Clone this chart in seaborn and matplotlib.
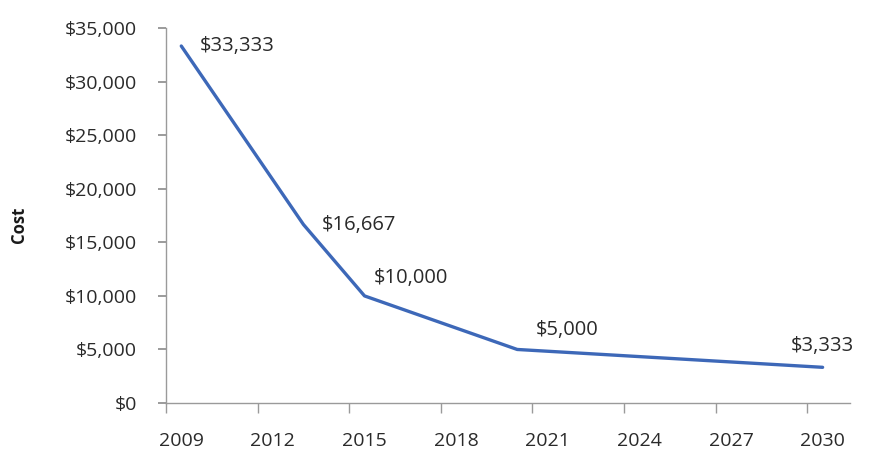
import numpy as np
import pandas as pd
import matplotlib.pyplot as plt
import matplotlib.ticker as mticker
import seaborn as sns

years = [2009, 2013, 2015, 2020, 2030]
cost = [33333, 16667, 10000, 5000, 3333]
tick_years = [2009, 2012, 2015, 2018, 2021, 2024, 2027, 2030]

df = pd.DataFrame({"year": years, "cost": cost})

sns.set_style("white")
plt.rcParams["font.family"] = ["Open Sans", "DejaVu Sans"]
plt.rcParams["xtick.bottom"] = True
plt.rcParams["ytick.left"] = True

fig = plt.figure(figsize=(8.71, 4.54), dpi=100)
ax = fig.add_axes([0.1906, 0.1123, 0.7854, 0.8257])

sns.lineplot(data=df, x="year", y="cost", ax=ax, color="#3d68b8", linewidth=2.4)

# label offsets in points (dx, dy, ha)
offsets = [(13, 0, "left"), (13, 0, "left"), (7, 13, "left"), (13, 14, "left"), (0, 15, "center")]
for x, y, (dx, dy, ha) in zip(years, cost, offsets):
    ax.annotate(f"${y:,.0f}", (x, y), xytext=(dx, dy), textcoords="offset points",
                ha=ha, va="center", fontsize=14.5, color="#2a2a2a")

ax.set_xlim(2008.5, 2030.9)
ax.set_ylim(0, 35000)
ax.yaxis.set_major_locator(mticker.MultipleLocator(5000))
ax.yaxis.set_major_formatter(mticker.FuncFormatter(lambda v, p: f"${v:,.0f}"))

ax.set_xticks(tick_years)
ax.set_xticks([y - 0.5 for y in tick_years], minor=True)
ax.tick_params(axis="x", which="major", bottom=True, length=0, pad=21, labelsize=14,
               labelcolor="#2a2a2a")
ax.tick_params(axis="x", which="minor", bottom=True, length=7, width=1, color="#9a9a9a",
               direction="out")
ax.tick_params(axis="y", which="major", left=True, length=6, width=1.2, color="#8a8a8a",
               direction="out", labelsize=14, pad=15, labelcolor="#2a2a2a")

for side in ["top", "right"]:
    ax.spines[side].set_visible(False)
for side in ["left", "bottom"]:
    ax.spines[side].set_color("#9a9a9a")
    ax.spines[side].set_linewidth(1)

ax.set_xlabel("")
ax.set_ylabel("Cost", fontsize=12, fontweight="bold", color="#1a1a1a")
ax.yaxis.set_label_coords(-0.202, 0.475)

fig.savefig("out.png", dpi=100)
